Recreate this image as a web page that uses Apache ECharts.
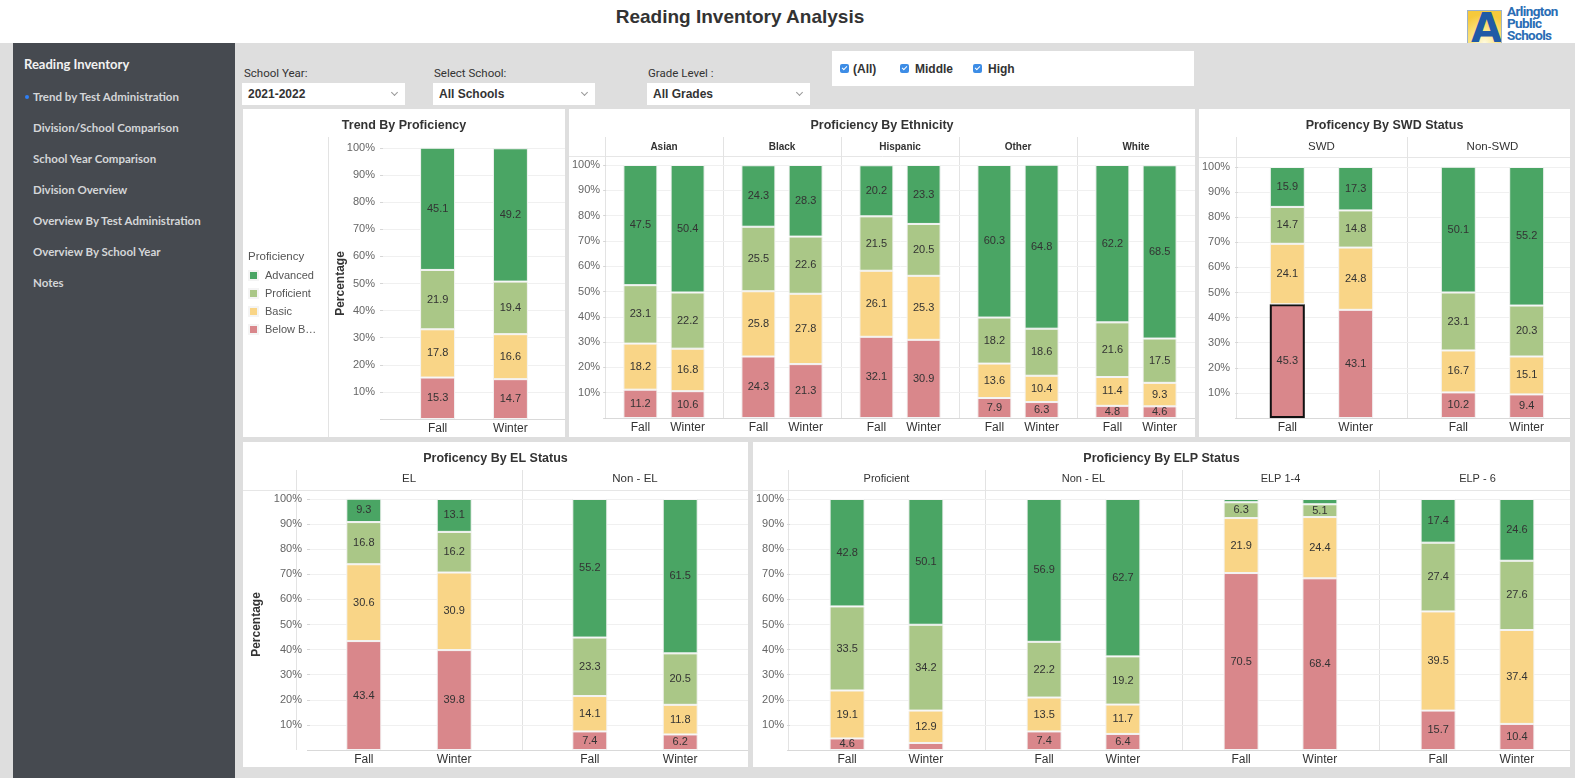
<!DOCTYPE html>
<html>
<head>
    <meta charset="utf-8">
    <title>Reading Inventory Analysis</title>
    <script src="https://cdn.jsdelivr.net/npm/echarts@6/dist/echarts.min.js"></script>
    <style>
        body { margin: 0; width: 1575px; height: 778px; overflow: hidden; background: #fff; position: relative;
               font-family: "Liberation Sans", Arial, sans-serif; }
        .abs { position: absolute; }
        #top-title { left: 0; width: 1480px; top: 6px; text-align: center; font-size: 19px; font-weight: bold; color: #333; }
        #logo-box { left: 1467px; top: 10px; width: 33px; height: 32px; border: 1px solid #9fb3c8;
                    background: radial-gradient(circle at 50% 100%, #fffbe0 0%, #fbe78a 35%, #f6c93c 80%); overflow: hidden; }
        #logo-box span { position: absolute; left: 3px; top: -6px; font-family: "DejaVu Sans", sans-serif; font-weight: bold;
                         font-size: 40px; color: #1f5aa6; }
        #logo-text { left: 1507px; top: 5px; font-family: Roboto, sans-serif; font-weight: bold; font-size: 13.5px;
                     line-height: 12px; color: #2a6db5; letter-spacing: -0.6px; }
        #graybg { left: 0; top: 43px; width: 1575px; height: 735px; background: #dedede; }
        #sidebar { left: 13px; top: 43px; width: 222px; height: 735px; background: #464a50; }
        .menu { position: absolute; font-family: Lato, sans-serif; font-weight: bold; color: #d4d6d8; font-size: 11.5px; line-height: 14px; white-space: nowrap; }
        .menu.head { font-size: 13px; color: #f2f2f2; }
        .dot { position: absolute; width: 4px; height: 4px; border-radius: 2px; background: #2f7ff5; }
        .flabel { position: absolute; font-family: Roboto, sans-serif; font-size: 11.5px; color: #333; line-height: 14px; }
        .drop { position: absolute; background: #fff; height: 22px; }
        .drop span { position: absolute; left: 6px; top: 4px; font-size: 12px; font-weight: bold; color: #333; }
        .drop i { position: absolute; right: 8px; top: 7px; width: 4px; height: 4px; border-right: 1px solid #999; border-bottom: 1px solid #999; transform: rotate(45deg); }
        #checks { left: 832px; top: 51px; width: 362px; height: 35px; background: #fff; }
        .cb { position: absolute; top: 13px; width: 9px; height: 9px; border-radius: 2px; background: #3d8de6; }
        .cb:after { content: ""; position: absolute; left: 3px; top: 1px; width: 2px; height: 4px; border-right: 1px solid #fff; border-bottom: 1px solid #fff; transform: rotate(45deg); }
        .cbl { position: absolute; top: 11px; font-size: 12px; font-weight: bold; color: #333; }
        .panel { position: absolute; background: #fff; }
    </style>
</head>
<body>
<!-- 页头 -->
<div id="top-title" class="abs">Reading Inventory Analysis</div>
<div id="logo-box" class="abs"><span>A</span></div>
<div id="logo-text" class="abs">Arlington<br>Public<br>Schools</div>

<div id="graybg" class="abs"></div>

<!-- 左侧菜单 -->
<div id="sidebar" class="abs">
    <div class="menu head" style="left:11px;top:14px">Reading Inventory</div>
    <div class="dot" style="left:12px;top:52px"></div>
    <div class="menu" style="left:20px;top:47px">Trend by Test Administration</div>
    <div class="menu" style="left:20px;top:78px">Division/School Comparison</div>
    <div class="menu" style="left:20px;top:109px">School Year Comparison</div>
    <div class="menu" style="left:20px;top:140px">Division Overview</div>
    <div class="menu" style="left:20px;top:171px">Overview By Test Administration</div>
    <div class="menu" style="left:20px;top:202px">Overview By School Year</div>
    <div class="menu" style="left:20px;top:233px">Notes</div>
</div>

<!-- 筛选条件 -->
<div class="flabel" style="left:244px;top:66px">School Year:</div>
<div class="drop" style="left:242px;top:83px;width:163px"><span>2021-2022</span><i></i></div>
<div class="flabel" style="left:434px;top:66px">Select School:</div>
<div class="drop" style="left:433px;top:83px;width:162px"><span>All Schools</span><i></i></div>
<div class="flabel" style="left:648px;top:66px">Grade Level :</div>
<div class="drop" style="left:647px;top:83px;width:163px"><span>All Grades</span><i></i></div>

<div id="checks" class="abs">
    <div class="cb" style="left:8px"></div><div class="cbl" style="left:21px">(All)</div>
    <div class="cb" style="left:68px"></div><div class="cbl" style="left:83px">Middle</div>
    <div class="cb" style="left:141px"></div><div class="cbl" style="left:156px">High</div>
</div>

<!-- 图表面板 -->
<div class="panel" id="trendPanel" style="left:243px;top:109px;width:322px;height:328px"></div>
<div class="panel" id="ethPanel" style="left:569px;top:109px;width:626px;height:328px"></div>
<div class="panel" id="swdPanel" style="left:1199px;top:109px;width:371px;height:328px"></div>
<div class="panel" id="elPanel" style="left:243px;top:442px;width:505px;height:325px"></div>
<div class="panel" id="elpPanel" style="left:753px;top:442px;width:817px;height:325px"></div>

<script type="text/javascript">
    var periods = ['Fall', 'Winter'];
    var levelNames = ['Below Basic', 'Basic', 'Proficient', 'Advanced'];
    var levelColors = ['#d9878b', '#f9d587', '#aac787', '#4aa564'];

    //每组 [Fall, Winter]
    var trendGroups = [''];
    var trendBelow = [[15.3, 14.7]];
    var trendBasic = [[17.8, 16.6]];
    var trendProf = [[21.9, 19.4]];
    var trendAdv = [[45.1, 49.2]];

    var ethGroups = ['Asian', 'Black', 'Hispanic', 'Other', 'White'];
    var ethBelow = [[11.2, 10.6], [24.3, 21.3], [32.1, 30.9], [7.9, 6.3], [4.8, 4.6]];
    var ethBasic = [[18.2, 16.8], [25.8, 27.8], [26.1, 25.3], [13.6, 10.4], [11.4, 9.3]];
    var ethProf = [[23.1, 22.2], [25.5, 22.6], [21.5, 20.5], [18.2, 18.6], [21.6, 17.5]];
    var ethAdv = [[47.5, 50.4], [24.3, 28.3], [20.2, 23.3], [60.3, 64.8], [62.2, 68.5]];

    var swdGroups = ['SWD', 'Non-SWD'];
    var swdBelow = [[45.3, 43.1], [10.2, 9.4]];
    var swdBasic = [[24.1, 24.8], [16.7, 15.1]];
    var swdProf = [[14.7, 14.8], [23.1, 20.3]];
    var swdAdv = [[15.9, 17.3], [50.1, 55.2]];

    var elGroups = ['EL', 'Non - EL'];
    var elBelow = [[43.4, 39.8], [7.4, 6.2]];
    var elBasic = [[30.6, 30.9], [14.1, 11.8]];
    var elProf = [[16.8, 16.2], [23.3, 20.5]];
    var elAdv = [[9.3, 13.1], [55.2, 61.5]];

    var elpGroups = ['Proficient', 'Non - EL', 'ELP 1-4', 'ELP - 6'];
    var elpBelow = [[4.6, 2.8], [7.4, 6.4], [70.5, 68.4], [15.7, 10.4]];
    var elpBasic = [[19.1, 12.9], [13.5, 11.7], [21.9, 24.4], [39.5, 37.4]];
    var elpProf = [[33.5, 34.2], [22.2, 19.2], [6.3, 5.1], [27.4, 27.6]];
    var elpAdv = [[42.8, 50.1], [56.9, 62.7], [1.3, 2.1], [17.4, 24.6]];

    var FONT = '"Liberation Sans", Arial, sans-serif';

    //分面堆叠柱状图
    function stackPanel(domId, p) {
        var chart = echarts.init(document.getElementById(domId));
        var plotH = p.bottom - p.top;
        var grid = [{left: p.axisX, right: 0, top: p.top, height: plotH}];
        var xAxis = [{
            type: 'value', gridIndex: 0, min: 0, max: 1,
            axisLabel: {show: false}, axisTick: {show: false}, splitLine: {show: false},
            axisLine: {show: true, lineStyle: {color: '#d9d9d9'}}
        }];
        var yAxis = [{
            type: 'value', gridIndex: 0, min: 0, max: 100, interval: 10,
            axisLine: {show: false},
            axisTick: {show: true, length: 3, lineStyle: {color: '#d6d6d6'}},
            splitLine: {lineStyle: {color: '#f0f0f0'}},
            axisLabel: {
                color: '#666', fontSize: 11, fontFamily: FONT, margin: p.labelMargin,
                formatter: function (v) { return v === 0 ? '' : v + '%'; }
            },
            name: p.yName || '', nameLocation: 'middle', nameGap: p.nameGap || 0, nameRotate: 90,
            nameMoveOverlap: false,
            nameTextStyle: {color: '#333', fontSize: 12, fontWeight: 'bold', fontFamily: FONT}
        }];
        var series = [];
        var graphic = [];

        //分面标题行
        if (p.headerY) {
            graphic.push({type: 'line', silent: true, shape: {x1: 0, y1: p.headerLine + 0.5, x2: 2000, y2: p.headerLine + 0.5},
                style: {stroke: '#e6e6e6', lineWidth: 1}});
        }
        p.groups.forEach(function (g, i) {
            var fl = p.axisX + i * p.facetW;
            grid.push({left: fl + p.facetW * 0.1, width: p.facetW * 0.8, top: p.top, height: plotH});
            xAxis.push({
                type: 'category', gridIndex: i + 1, data: periods,
                axisLine: {show: false}, axisTick: {show: false},
                axisLabel: {color: '#333', fontSize: 12, fontFamily: FONT, margin: 4}
            });
            yAxis.push({type: 'value', gridIndex: i + 1, min: 0, max: 100, show: false});
            if (p.headerY) {
                graphic.push({type: 'line', silent: true,
                    shape: {x1: Math.round(fl) + 0.5, y1: p.divTop, x2: Math.round(fl) + 0.5, y2: p.bottom},
                    style: {stroke: '#e3e3e3', lineWidth: 1}});
                graphic.push({type: 'text', silent: true, x: fl + p.facetW / 2, y: p.headerY,
                    style: {text: g, align: 'center', verticalAlign: 'middle', fill: '#333', font: p.headerFont}});
            }
            p.values.forEach(function (vals, l) {
                var data = vals[i].map(function (v, k) {
                    var sel = p.selected && p.selected[0] === i && p.selected[1] === l && p.selected[2] === k;
                    return sel ? {value: v, itemStyle: {borderColor: '#111', borderWidth: 2}} : v;
                });
                series.push({
                    name: levelNames[l], type: 'bar', stack: 'g' + i,
                    xAxisIndex: i + 1, yAxisIndex: i + 1,
                    barWidth: p.barWidth, data: data,
                    itemStyle: {color: levelColors[l], borderColor: '#f4f4f4', borderWidth: 1},
                    label: {
                        show: true, position: 'inside', color: '#333', fontSize: 11, fontFamily: FONT,
                        formatter: function (prm) { return prm.value >= 3 ? prm.value.toFixed(1) : ''; }
                    },
                    emphasis: {disabled: true}
                });
            });
        });
        if (p.extraGraphic) graphic = graphic.concat(p.extraGraphic);

        var option = {
            animation: false,
            title: {text: p.title, left: 'center', top: 5, textStyle: {fontSize: 12.5, fontWeight: 'bold', color: '#333', fontFamily: FONT}},
            grid: grid, xAxis: xAxis, yAxis: yAxis, series: series, graphic: graphic
        };
        if (p.legend) {
            option.legend = {
                orient: 'vertical', left: 5, top: 161, padding: 0,
                itemWidth: 9, itemHeight: 9, itemGap: 7, icon: 'rect', selectedMode: false,
                data: ['Advanced', 'Proficient', 'Basic', 'Below Basic'],
                formatter: function (name) { return name === 'Below Basic' ? 'Below B…' : name; },
                textStyle: {fontSize: 11, color: '#555', fontFamily: FONT, padding: [0, 0, 0, 2]}
            };
        }
        chart.setOption(option);
    }

    stackPanel('trendPanel', {
        title: 'Trend By Proficiency', groups: trendGroups,
        values: [trendBelow, trendBasic, trendProf, trendAdv],
        axisX: 140, facetW: 182, top: 39, bottom: 310, labelMargin: 8, barWidth: 35,
        yName: 'Percentage', nameGap: 36, legend: true,
        extraGraphic: [
            {type: 'line', silent: true, shape: {x1: 85.5, y1: 28, x2: 85.5, y2: 328}, style: {stroke: '#e3e3e3', lineWidth: 1}},
            {type: 'text', silent: true, x: 5, y: 148, style: {text: 'Proficiency', verticalAlign: 'middle', fill: '#555', font: '11.5px ' + FONT}}
        ]
    });

    stackPanel('ethPanel', {
        title: 'Proficiency By Ethnicity', groups: ethGroups,
        values: [ethBelow, ethBasic, ethProf, ethAdv],
        axisX: 36, facetW: 118, top: 56, bottom: 309, labelMargin: 6, barWidth: 34,
        headerY: 38, headerLine: 47, divTop: 28, headerFont: 'bold 10px ' + FONT
    });

    stackPanel('swdPanel', {
        title: 'Proficency By SWD Status', groups: swdGroups,
        values: [swdBelow, swdBasic, swdProf, swdAdv],
        axisX: 37, facetW: 171, top: 58, bottom: 309, labelMargin: 8, barWidth: 35,
        headerY: 38, headerLine: 48, divTop: 28, headerFont: '11.5px ' + FONT,
        selected: [0, 0, 0]
    });

    stackPanel('elPanel', {
        title: 'Proficency By EL Status', groups: elGroups,
        values: [elBelow, elBasic, elProf, elAdv],
        axisX: 53, facetW: 226, top: 57, bottom: 308, labelMargin: 8, barWidth: 35,
        yName: 'Percentage', nameGap: 47,
        headerY: 37, headerLine: 48, divTop: 28, headerFont: '11.5px ' + FONT
    });

    stackPanel('elpPanel', {
        title: 'Proficiency By ELP Status', groups: elpGroups,
        values: [elpBelow, elpBasic, elpProf, elpAdv],
        axisX: 35, facetW: 197, top: 57, bottom: 308, labelMargin: 6, barWidth: 35,
        headerY: 37, headerLine: 48, divTop: 28, headerFont: '11px ' + FONT
    });
</script>
</body>
</html>
